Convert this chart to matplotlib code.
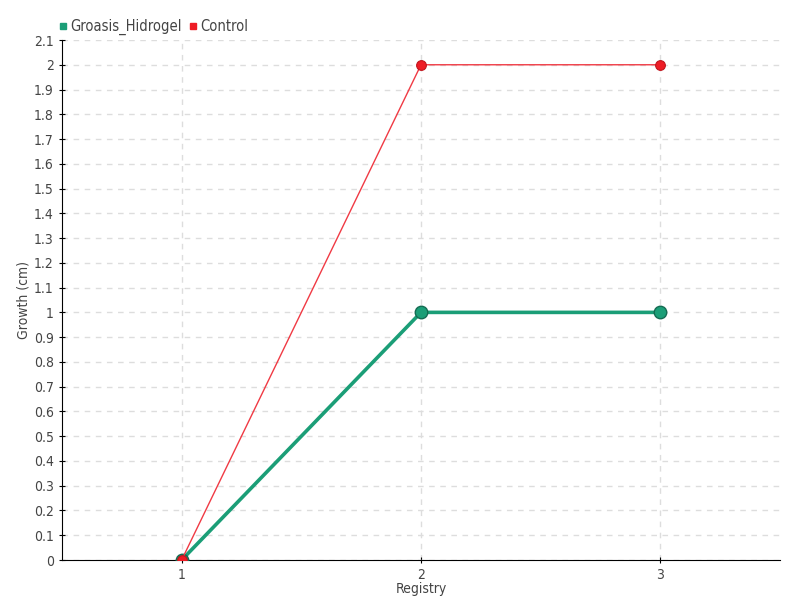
import matplotlib
matplotlib.use("Agg")
import matplotlib.pyplot as plt
from matplotlib.lines import Line2D

registry = [1, 2, 3]
groasis = [0, 1, 1]
control = [0, 2, 2]
yticks = [round(i * 0.1, 1) for i in range(22)]
ytick_labels = ["0" if v == 0 else ("%g" % v) for v in yticks]

plt.rcParams['font.family'] = ['DejaVu Sans']
plt.rcParams['font.stretch'] = 'condensed'

fig = plt.figure(figsize=(8, 6), dpi=100)
ax = fig.add_axes([62/800, 40/600, (780-62)/800, (560-40)/600])

green = '#1b9e77'
red = '#ee1c25'
ax.plot(registry, groasis, color=green, lw=2.6, marker='o', ms=9,
        markerfacecolor=green, markeredgecolor='#146b52', markeredgewidth=1, zorder=3)
ax.plot(registry, control, color='#f03a44', lw=1, marker='o', ms=7,
        markerfacecolor=red, markeredgecolor='#c0141c', markeredgewidth=0.8, zorder=4)

ax.set_xlim(0.5, 3.5)
ax.set_ylim(0, 2.1)
ax.set_xticks(registry)
ax.set_xticklabels([str(r) for r in registry])
ax.set_yticks(yticks)
ax.set_yticklabels(ytick_labels)
ax.grid(True, color='#dddddd', linestyle=(0, (4, 4)), lw=1)
ax.set_axisbelow(True)
for s in ['top', 'right']:
    ax.spines[s].set_visible(False)
ax.spines['left'].set_color('black')
ax.spines['bottom'].set_color('black')
ax.tick_params(axis='both', colors='black', labelcolor='#444444', labelsize=10, length=5, direction='inout')
ax.set_xlabel('Registry', color='#444444', fontsize=10, labelpad=0)
ax.set_ylabel('Growth (cm)', color='#444444', fontsize=10, labelpad=2)

handles = [Line2D([], [], marker='s', ls='none', color=green, ms=5),
           Line2D([], [], marker='s', ls='none', color=red, ms=5)]
fig.legend(handles, ['Groasis_Hidrogel', 'Control'], loc='upper left',
           bbox_to_anchor=(44/800, 1 - 6/600), ncol=2, frameon=False,
           handletextpad=0.1, columnspacing=0.4, handlelength=0.8,
           labelcolor='#444444', fontsize=10.5)

fig.savefig('out.png', dpi=100)
